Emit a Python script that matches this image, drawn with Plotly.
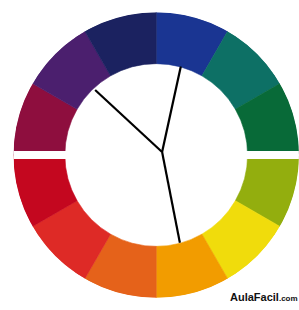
import plotly.graph_objects as go

# --- data ---
segment_theta = [75, 45, 15, -15, -45, -75, -105, -135, -165, 165, 135, 105]
segment_width = [30] * 12
ring_inner = 0.64
ring_outer = 1.0
segment_colors = ["#1a3592", "#0d7065", "#086a38", "#93ae0e", "#f0dc0c", "#f29c00",
                  "#e5621a", "#de2a26", "#c4071f", "#8e0e3e", "#4b1f6e", "#1b2260"]

# three hands meeting at a common junction (r, theta in degrees)
junction = (0.046, 26.6)
hand_ends_r = [0.625, 0.644, 0.636]
hand_ends_theta = [133.2, 74.5, -74.9]

gap_r = [1.05, 1.05]
gap_theta = [0, 180]

fig = go.Figure()
fig.add_trace(go.Barpolar(
    theta=segment_theta,
    r=[ring_outer - ring_inner] * len(segment_theta),
    base=ring_inner,
    width=segment_width,
    marker=dict(color=segment_colors, line=dict(color=segment_colors, width=0.6)),
    hoverinfo="skip",
))
fig.add_trace(go.Scatterpolar(
    r=gap_r, theta=gap_theta, mode="lines",
    line=dict(color="white", width=8), hoverinfo="skip",
))
hr, ht = [], []
for r_end, t_end in zip(hand_ends_r, hand_ends_theta):
    hr += [junction[0], r_end, None]
    ht += [junction[1], t_end, None]
fig.add_trace(go.Scatterpolar(
    r=hr, theta=ht, mode="lines",
    line=dict(color="black", width=2.2), hoverinfo="skip",
))

fig.update_layout(
    width=299, height=310,
    margin=dict(l=0, r=0, t=0, b=0),
    paper_bgcolor="white",
    showlegend=False,
    polar=dict(
        domain=dict(x=[0.045, 1.0], y=[0.03, 0.97]),
        bgcolor="white",
        bargap=0,
        radialaxis=dict(range=[0, 1], visible=False, showgrid=False),
        angularaxis=dict(visible=False, showgrid=False, rotation=0,
                         direction="counterclockwise"),
    ),
    annotations=[dict(
        text="<b>AulaFacil</b><b><span style='font-size:8px'>.com</span></b>",
        x=228 / 299, y=1 - 297 / 310, xref="paper", yref="paper",
        xanchor="left", yanchor="middle", showarrow=False,
        font=dict(family="Liberation Sans, Arial", size=11, color="#111111"),
    )],
)

fig.write_html("out.html", config={"displayModeBar": False},
               post_script="document.body.style.margin='0';document.body.style.overflow='hidden';")
